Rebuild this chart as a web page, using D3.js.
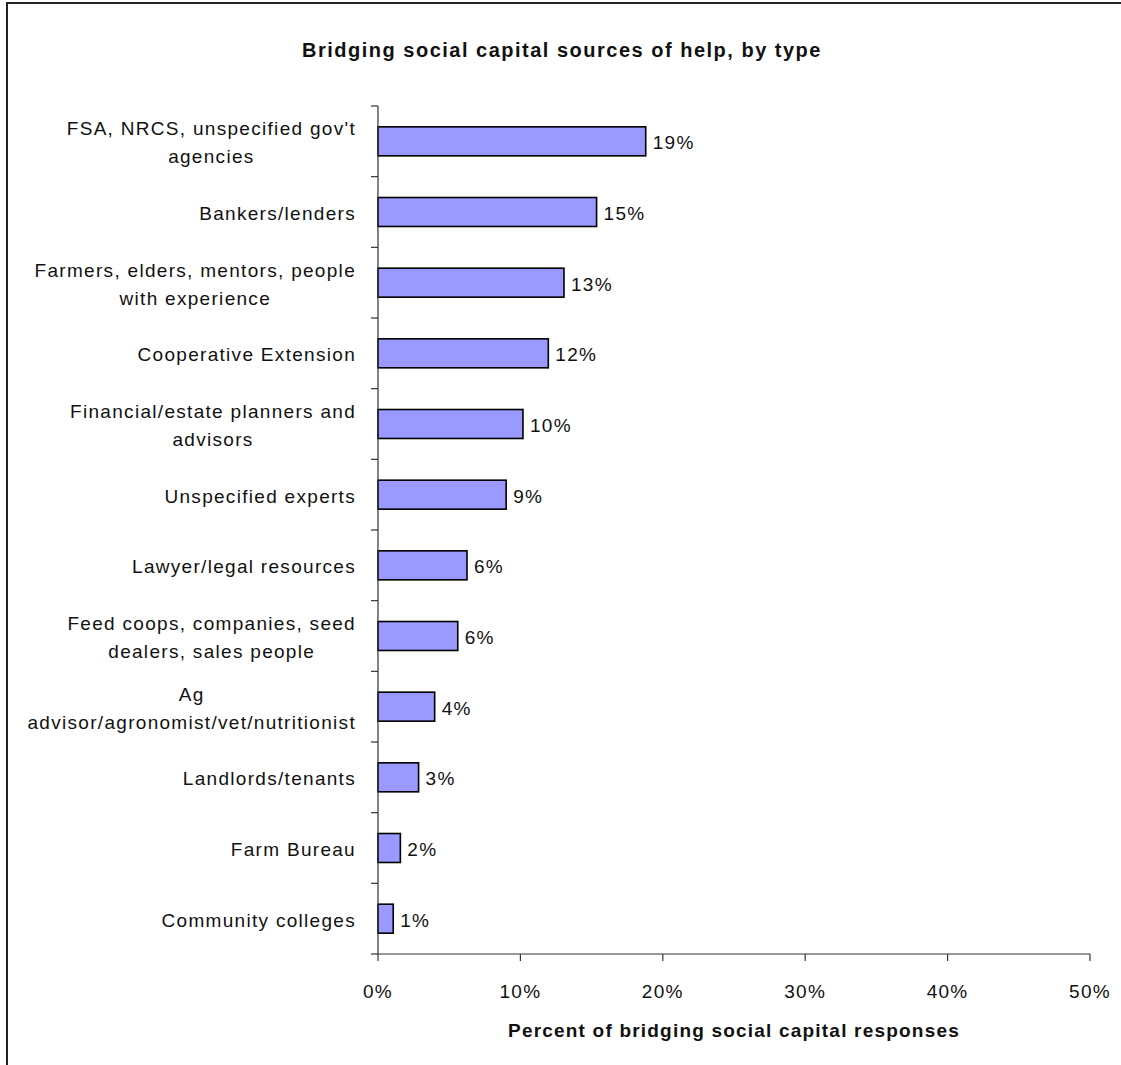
<!DOCTYPE html>
<html>
<head>
<meta charset="utf-8">
<script src="https://cdn.jsdelivr.net/npm/d3@7"></script>
<style>
  html, body { margin: 0; padding: 0; background: #fff; }
  svg { display: block; }
  text { font-family: "Liberation Sans", Arial, sans-serif; fill: #111; }
</style>
</head>
<body>
<svg id="chart" width="1121" height="1065"></svg>
<script>
// Category labels, one entry per bar, split into display lines
const categoryLines = [
  ["FSA, NRCS, unspecified gov't", "agencies"],
  ["Bankers/lenders"],
  ["Farmers, elders, mentors, people", "with experience"],
  ["Cooperative Extension"],
  ["Financial/estate planners and", "advisors"],
  ["Unspecified experts"],
  ["Lawyer/legal resources"],
  ["Feed coops, companies, seed", "dealers, sales people"],
  ["Ag", "advisor/agronomist/vet/nutritionist"],
  ["Landlords/tenants"],
  ["Farm Bureau"],
  ["Community colleges"]
];
const categories = categoryLines.map(l => l.join(" "));

// Share of bridging social capital responses
const values = [0.188, 0.1535, 0.1306, 0.1196, 0.1018, 0.090, 0.0625, 0.056, 0.0398, 0.0285, 0.0157, 0.0107];

// X axis ticks
const xTicks = [0, 0.1, 0.2, 0.3, 0.4, 0.5];

const titleText = "Bridging social capital sources of help, by type";
const xTitleText = "Percent of bridging social capital responses";

const svg = d3.select("#chart");
const W = 1121, H = 1065;

const FS = 19;     // body text size
const LS = 1.3;    // tracking for body text

// outer frame
svg.append("rect")
  .attr("x", 7).attr("y", 3)
  .attr("width", W + 20).attr("height", H + 20)
  .attr("fill", "none").attr("stroke", "#222").attr("stroke-width", 2);

const x = d3.scaleLinear().domain([0, 0.5]).range([378, 1090]);
const y = d3.scaleBand().domain(categories).range([106, 954])
  .paddingInner(0.59).paddingOuter(0.295);

const pct = d3.format(".0%");

// title
svg.append("text")
  .text(titleText)
  .attr("x", 562).attr("y", 57)
  .attr("text-anchor", "middle")
  .style("font-size", "20px").style("font-weight", "bold")
  .style("letter-spacing", "1.5px");

// bars
svg.append("g").selectAll("rect")
  .data(values)
  .join("rect")
  .attr("x", x(0))
  .attr("y", (d, i) => y(categories[i]))
  .attr("width", d => x(d) - x(0))
  .attr("height", y.bandwidth())
  .attr("fill", "#9999FF")
  .attr("stroke", "#000")
  .attr("stroke-width", 1.6);

// value labels
svg.append("g").selectAll("text")
  .data(values)
  .join("text")
  .text(d => pct(d))
  .attr("x", d => x(d) + 7)
  .attr("y", (d, i) => y(categories[i]) + y.bandwidth() / 2 + 8)
  .style("font-size", FS + "px")
  .style("letter-spacing", LS + "px");

// y axis line and boundary ticks
const axisColor = "#333";
const step = y.step();
const y0 = y.range()[0];
svg.append("line")
  .attr("x1", x(0)).attr("x2", x(0))
  .attr("y1", y0).attr("y2", y.range()[1])
  .attr("stroke", axisColor).attr("stroke-width", 1.2);
svg.append("g").selectAll("line")
  .data(d3.range(categories.length + 1))
  .join("line")
  .attr("x1", x(0) - 7).attr("x2", x(0))
  .attr("y1", i => y0 + i * step).attr("y2", i => y0 + i * step)
  .attr("stroke", axisColor).attr("stroke-width", 1.2);

// category labels, block right-aligned, lines centred within the block
const labelRight = x(0) - 22;
const lineH = 28;
categoryLines.forEach((lines, i) => {
  const cy = y(categories[i]) + y.bandwidth() / 2;
  const g = svg.append("g");
  const texts = lines.map(ln => g.append("text")
    .text(ln)
    .attr("text-anchor", "middle")
    .style("font-size", FS + "px")
    .style("letter-spacing", LS + "px"));
  const maxW = d3.max(texts, t => t.node().getComputedTextLength());
  const cx = labelRight - maxW / 2;
  const top = cy - (lines.length - 1) * lineH / 2;
  texts.forEach((t, k) => t.attr("x", cx).attr("y", top + k * lineH + 8));
});

// x axis
const yAxis = y.range()[1];
svg.append("line")
  .attr("x1", x(0)).attr("x2", x(0.5))
  .attr("y1", yAxis).attr("y2", yAxis)
  .attr("stroke", axisColor).attr("stroke-width", 1.2);
svg.append("g").selectAll("line")
  .data(xTicks)
  .join("line")
  .attr("x1", d => x(d)).attr("x2", d => x(d))
  .attr("y1", yAxis).attr("y2", yAxis + 7)
  .attr("stroke", axisColor).attr("stroke-width", 1.2);
svg.append("g").selectAll("text")
  .data(xTicks)
  .join("text")
  .text(d => pct(d))
  .attr("x", d => x(d)).attr("y", yAxis + 44)
  .attr("text-anchor", "middle")
  .style("font-size", FS + "px")
  .style("letter-spacing", LS + "px");

// x axis title
svg.append("text")
  .text(xTitleText)
  .attr("x", (x(0) + x(0.5)) / 2).attr("y", 1037)
  .attr("text-anchor", "middle")
  .style("font-size", "19px").style("font-weight", "bold")
  .style("letter-spacing", "1.2px");
</script>
</body>
</html>
